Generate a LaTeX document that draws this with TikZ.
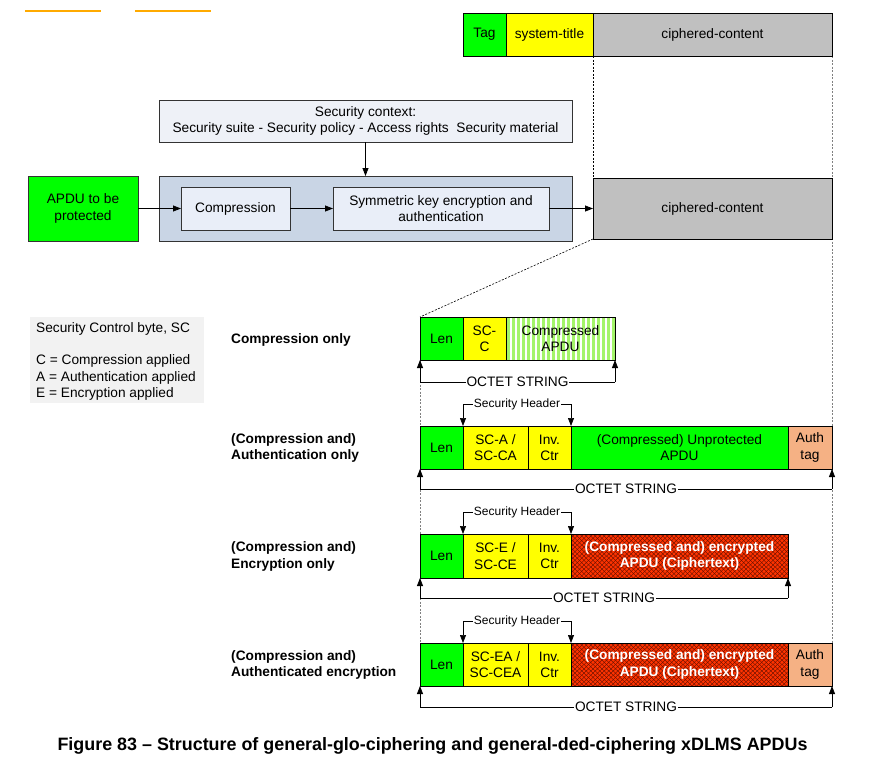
\documentclass[tikz,border=0pt]{standalone}
\usepackage{fontspec}
\setmainfont{Liberation Sans}
\usetikzlibrary{arrows.meta,backgrounds,calc}
\definecolor{cgreen}{HTML}{00FF00}
\definecolor{cyellow}{HTML}{FFFF00}
\definecolor{cgrey}{HTML}{C0C0C0}
\definecolor{csec}{HTML}{EEF1F7}
\definecolor{cbig}{HTML}{C9D5E5}
\definecolor{cinner}{HTML}{E9EEF8}
\definecolor{cauth}{HTML}{F5B184}
\definecolor{cred}{HTML}{FF3300}
\definecolor{chatch}{HTML}{5A0E00}
\definecolor{cstripe}{HTML}{A4F46A}
\definecolor{corange}{HTML}{FFAA00}
\definecolor{clegend}{HTML}{F2F2F2}
\definecolor{cborder}{HTML}{333333}
\newcommand\myfn{\fontsize{13.7}{16.3}\selectfont}
\newcommand\myfnb{\fontsize{13.7}{16.3}\selectfont\bfseries}
\newcommand\mysmallfn{\fontsize{12}{14}\selectfont}
\newcommand\mycapfn{\fontsize{17.9}{20}\selectfont\bfseries}
\begin{document}
\begin{tikzpicture}[x=1pt,y=-1pt,
  cell/.style={draw=black, line width=0.8pt, inner sep=0pt, outer sep=0pt, anchor=north west, align=center, font=\myfn, text=black},
  ubox/.style={cell, draw=cborder},
  arr/.style={-{Triangle[length=8pt,width=6pt]}, line width=0.8pt, black},
  hdrarr/.style={-{Triangle[length=8pt,width=6pt]}, line width=0.7pt, black},
  span/.style={line width=0.7pt, black},
  spanlbl/.style={fill=white, inner sep=1pt, font=\myfn},
  hdrlbl/.style={fill=white, inner sep=1pt, font=\mysmallfn},
  lbl/.style={anchor=west, align=left, inner sep=0pt, font=\myfnb},
  dashblack/.style={black, line width=0.6pt, dash pattern=on 2pt off 1.5pt},
  dashgrey/.style={gray, line width=0.8pt, dash pattern=on 2pt off 1.5pt},
  stripes/.style={path picture={\foreach \i in {1,6,...,111} \fill[cstripe] ($(path picture bounding box.north west)+(\i,0)$) rectangle ($(path picture bounding box.south west)+(\i+2.6,0)$);}},
  hatch/.style={path picture={\foreach \i in {-50,-45.5,...,270}{\draw[chatch, line width=0.35pt] ($(path picture bounding box.north west)+(\i,0)$) -- ($(path picture bounding box.south west)+(\i+45,0)$) ($(path picture bounding box.north west)+(\i,0)$) -- ($(path picture bounding box.south west)+(\i-45,0)$);}}}
]
\useasboundingbox (0,0) rectangle (887,764);

% orange marks
\draw[corange, line width=2pt] (25,10.5) -- (101,10.5);
\draw[corange, line width=2pt] (135,10.5) -- (211,10.5);

% top row
\node[cell, fill=cgreen, minimum width=43, minimum height=43] (tag) at (463,13) {Tag};
\node[cell, fill=cyellow, minimum width=87, minimum height=43] (systitle) at (506,13) {system-title};
\node[cell, fill=cgrey, minimum width=239, minimum height=43] (cc1) at (593,13) {ciphered-content};

% security context and processing
\node[ubox, fill=csec, minimum width=413, minimum height=42] (sec) at (159,100) {Security context:\\Security suite - Security policy - Access rights\ \ Security material};
\node[ubox, fill=cbig, minimum width=413, minimum height=65] (big) at (159,176) {};
\node[ubox, fill=cinner, minimum width=109, minimum height=43] (compr) at (181,187) {Compression};
\node[ubox, fill=cinner, minimum width=216, minimum height=43] (sym) at (333,187) {Symmetric key encryption and\\authentication};
\node[ubox, fill=cgreen, minimum width=110, minimum height=65] (apdu) at (28,176) {APDU to be\\protected};
\node[cell, fill=cgrey, minimum width=239, minimum height=61] (cc2) at (593,178) {ciphered-content};

\draw[arr] (sec) -- (big);
\draw[arr] (apdu) -- (compr);
\draw[arr] (compr) -- (sym);
\draw[arr] (sym) -- (cc2);

% legend
\node[fill=clegend, anchor=north west, inner sep=0pt, minimum width=174, minimum height=86] (legend) at (30,317) {};
\node[anchor=north west, align=left, inner sep=0pt, font=\myfn] (legtext) at (36,322) {Security Control byte, SC\\[16.3pt]C = Compression applied\\A = Authentication applied\\E = Encryption applied};

% row labels
\node[lbl] (l1) at (231,339.5) {Compression only};
\node[lbl] (l2) at (231,448) {(Compression and)\\Authentication only};
\node[lbl] (l3) at (231,556.5) {(Compression and)\\Encryption only};
\node[lbl] (l4) at (231,665) {(Compression and)\\Authenticated encryption};

% row 1
\node[cell, fill=cgreen, minimum width=43, minimum height=43] (len1) at (420,317) {Len};
\node[cell, fill=cyellow, minimum width=43, minimum height=43] (scc) at (463,317) {SC-\\C};
\node[cell, fill=white, stripes, minimum width=109, minimum height=43] (comp) at (506,317) {Compressed\\APDU};

% row 2
\node[cell, fill=cgreen, minimum width=43, minimum height=43] (len2) at (420,426) {Len};
\node[cell, fill=cyellow, minimum width=65, minimum height=43] (sca) at (463,426) {SC-A /\\SC-CA};
\node[cell, fill=cyellow, minimum width=43, minimum height=43] (inv2) at (528,426) {Inv.\\Ctr};
\node[cell, fill=cgreen, minimum width=217, minimum height=43] (unp) at (571,426) {(Compressed) Unprotected\\APDU};
\node[cell, fill=cauth, minimum width=44, minimum height=43] (auth2) at (788,426) {Auth\\tag};

% row 3
\node[cell, fill=cgreen, minimum width=43, minimum height=44] (len3) at (420,534) {Len};
\node[cell, fill=cyellow, minimum width=65, minimum height=44] (sce) at (463,534) {SC-E /\\SC-CE};
\node[cell, fill=cyellow, minimum width=43, minimum height=44] (inv3) at (528,534) {Inv.\\Ctr};
\node[cell, fill=cred, hatch, minimum width=217, minimum height=44, font=\myfnb, text=white] (enc3) at (571,534) {(Compressed and) encrypted\\APDU (Ciphertext)};

% row 4
\node[cell, fill=cgreen, minimum width=43, minimum height=43] (len4) at (420,643) {Len};
\node[cell, fill=cyellow, minimum width=65, minimum height=43] (scea) at (463,643) {SC-EA /\\SC-CEA};
\node[cell, fill=cyellow, minimum width=43, minimum height=43] (inv4) at (528,643) {Inv.\\Ctr};
\node[cell, fill=cred, hatch, minimum width=217, minimum height=43, font=\myfnb, text=white] (enc4) at (571,643) {(Compressed and) encrypted\\APDU (Ciphertext)};
\node[cell, fill=cauth, minimum width=44, minimum height=43] (auth4) at (788,643) {Auth\\tag};

% dashed guide lines
\begin{scope}[on background layer]
\draw[dashblack] (cc1.south west) -- (cc2.north west);
\draw[dashblack] (cc2.south west) -- (len1.north west);
\draw[dashgrey] (cc1.south east) -- (auth4.north east);
\draw[dashgrey] (len1.south west) -- (len4.north west);
\end{scope}

% security headers
\coordinate (h2l) at (463,404); \coordinate (h2r) at (571,404);
\draw[hdrarr] (h2l) -- (sca.north west);
\draw[hdrarr] (h2r) -- (unp.north west);
\draw[span] (h2l) -- (h2r) node[midway, hdrlbl] {Security Header};

\coordinate (h3l) at (463,512); \coordinate (h3r) at (571,512);
\draw[hdrarr] (h3l) -- (sce.north west);
\draw[hdrarr] (h3r) -- (enc3.north west);
\draw[span] (h3l) -- (h3r) node[midway, hdrlbl] {Security Header};

\coordinate (h4l) at (463,621); \coordinate (h4r) at (571,621);
\draw[hdrarr] (h4l) -- (scea.north west);
\draw[hdrarr] (h4r) -- (enc4.north west);
\draw[span] (h4l) -- (h4r) node[midway, hdrlbl] {Security Header};

% octet strings
\coordinate (o1l) at (420,382); \coordinate (o1r) at (615,382);
\draw[arr] (o1l) -- (len1.south west);
\draw[arr] (o1r) -- (comp.south east);
\draw[span] (o1l) -- (o1r) node[midway, spanlbl] {OCTET STRING};

\coordinate (o2l) at (420,489); \coordinate (o2r) at (832,489);
\draw[arr] (o2l) -- (len2.south west);
\draw[arr] (o2r) -- (auth2.south east);
\draw[span] (o2l) -- (o2r) node[midway, spanlbl] {OCTET STRING};

\coordinate (o3l) at (420,598); \coordinate (o3r) at (788,598);
\draw[arr] (o3l) -- (len3.south west);
\draw[arr] (o3r) -- (enc3.south east);
\draw[span] (o3l) -- (o3r) node[midway, spanlbl] {OCTET STRING};

\coordinate (o4l) at (420,707); \coordinate (o4r) at (832,707);
\draw[arr] (o4l) -- (len4.south west);
\draw[arr] (o4r) -- (auth4.south east);
\draw[span] (o4l) -- (o4r) node[midway, spanlbl] {OCTET STRING};

% caption
\node[font=\mycapfn, inner sep=0pt] (caption) at (432.5,745.5) {Figure 83 -- Structure of general-glo-ciphering and general-ded-ciphering xDLMS APDUs};
\end{tikzpicture}
\end{document}
